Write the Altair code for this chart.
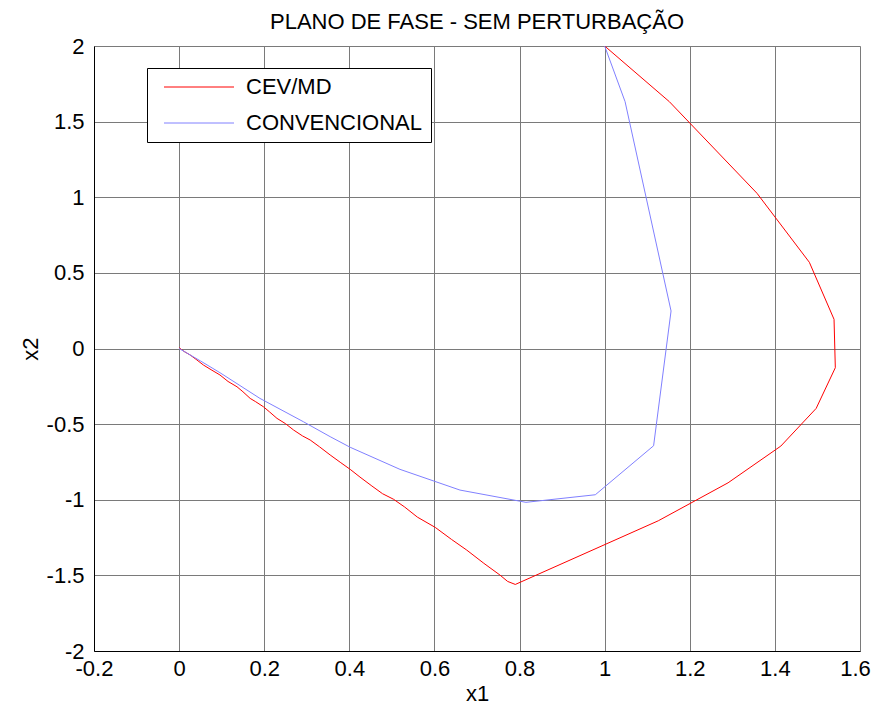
import altair as alt
import pandas as pd

series_names = ["CEV/MD", "CONVENCIONAL"]

red_x = [1.000, 1.152, 1.358, 1.481, 1.539, 1.542, 1.497, 1.414, 1.290, 1.126,
         0.790, 0.772, 0.754, 0.716, 0.676, 0.640, 0.602, 0.560, 0.530, 0.504,
         0.478, 0.453, 0.425, 0.402, 0.380, 0.355, 0.330, 0.308, 0.290, 0.269,
         0.250, 0.230, 0.212, 0.198, 0.180, 0.167, 0.150, 0.136, 0.115, 0.096,
         0.075, 0.057, 0.040, 0.026, 0.012, 0.000]
red_y = [2.000, 1.632, 1.026, 0.570, 0.193, -0.127, -0.396, -0.645, -0.888, -1.139,
         -1.560, -1.540, -1.498, -1.420, -1.333, -1.262, -1.183, -1.115, -1.048, -0.997,
         -0.960, -0.909, -0.850, -0.799, -0.755, -0.704, -0.650, -0.605, -0.578, -0.539,
         -0.497, -0.462, -0.418, -0.385, -0.352, -0.330, -0.286, -0.253, -0.218, -0.175,
         -0.140, -0.109, -0.072, -0.043, -0.020, 0.005]

blue_x = [1.000, 1.048, 1.156, 1.115, 0.978, 0.815, 0.660, 0.519, 0.402, 0.355,
          0.292, 0.190, 0.096, 0.050, 0.000]
blue_y = [2.000, 1.632, 0.248, -0.643, -0.967, -1.017, -0.936, -0.799, -0.653, -0.583,
          -0.484, -0.330, -0.160, -0.082, 0.000]

x_ticks = [-0.2, 0, 0.2, 0.4, 0.6, 0.8, 1, 1.2, 1.4, 1.6]
y_ticks = [-2, -1.5, -1, -0.5, 0, 0.5, 1, 1.5, 2]

rows = []
for i, (a, b) in enumerate(zip(red_x, red_y)):
    rows.append({"x1": a, "x2": b, "serie": series_names[0], "ord": i})
for i, (a, b) in enumerate(zip(blue_x, blue_y)):
    rows.append({"x1": a, "x2": b, "serie": series_names[1], "ord": i})
df = pd.DataFrame(rows)

FONT = "Liberation Sans"
FS = 22

chart = alt.Chart(df).mark_line(strokeWidth=1, clip=True).encode(
    x=alt.X("x1:Q",
            scale=alt.Scale(domain=[-0.2, 1.6], nice=False, zero=False),
            axis=alt.Axis(values=x_ticks, title="x1", labelExpr="'' + datum.value",
                          grid=True, gridColor="#7a7a7a", gridWidth=1,
                          domainColor="black", ticks=False, labelOverlap=False,
                          labelFont=FONT, labelFontSize=FS, labelColor="black",
                          labelPadding=7, titleFont=FONT, titleFontSize=FS,
                          titleFontWeight="normal", titleColor="black", titlePadding=4,
                          labelFlush=False,
                          labelOffset={"condition": {"test": "datum.value >= 1.55", "value": -5},
                                       "value": 0})),
    y=alt.Y("x2:Q",
            scale=alt.Scale(domain=[-2, 2], nice=False, zero=False),
            axis=alt.Axis(values=y_ticks, title="x2", labelExpr="'' + datum.value",
                          grid=True, gridColor="#7a7a7a", gridWidth=1,
                          domainColor="black", ticks=False, labelOverlap=False,
                          labelFont=FONT, labelFontSize=FS, labelColor="black",
                          labelPadding=10, titleFont=FONT, titleFontSize=FS,
                          titleFontWeight="normal", titleColor="black", titlePadding=4,
                          labelFlush=False)),
    color=alt.Color("serie:N",
                    scale=alt.Scale(domain=series_names, range=["#ff0000", "#8080ff"]),
                    legend=alt.Legend(orient="none", legendX=53, legendY=22, title=None,
                                      symbolType="M-1,0L9,0", symbolSize=196,
                                      symbolStrokeWidth=1, symbolOffset=5,
                                      labelFont=FONT, labelLimit=0,
                                      labelFontSize=FS, labelColor="black",
                                      labelOffset=64, strokeColor="black",
                                      fillColor="white", padding=8, rowPadding=14)),
    order="ord:Q",
).properties(
    width=766, height=605,
    title=alt.TitleParams("PLANO DE FASE - SEM PERTURBAÇÃO", font=FONT, fontSize=FS,
                          fontWeight="normal", color="black", frame="group",
                          offset=1),
    autosize="none",
    padding={"left": 86, "top": 38, "right": 11, "bottom": 52},
).configure_view(stroke="black", strokeWidth=1).configure(background="white")

chart.save("out.html", embed_options={"renderer": "svg", "actions": False})
